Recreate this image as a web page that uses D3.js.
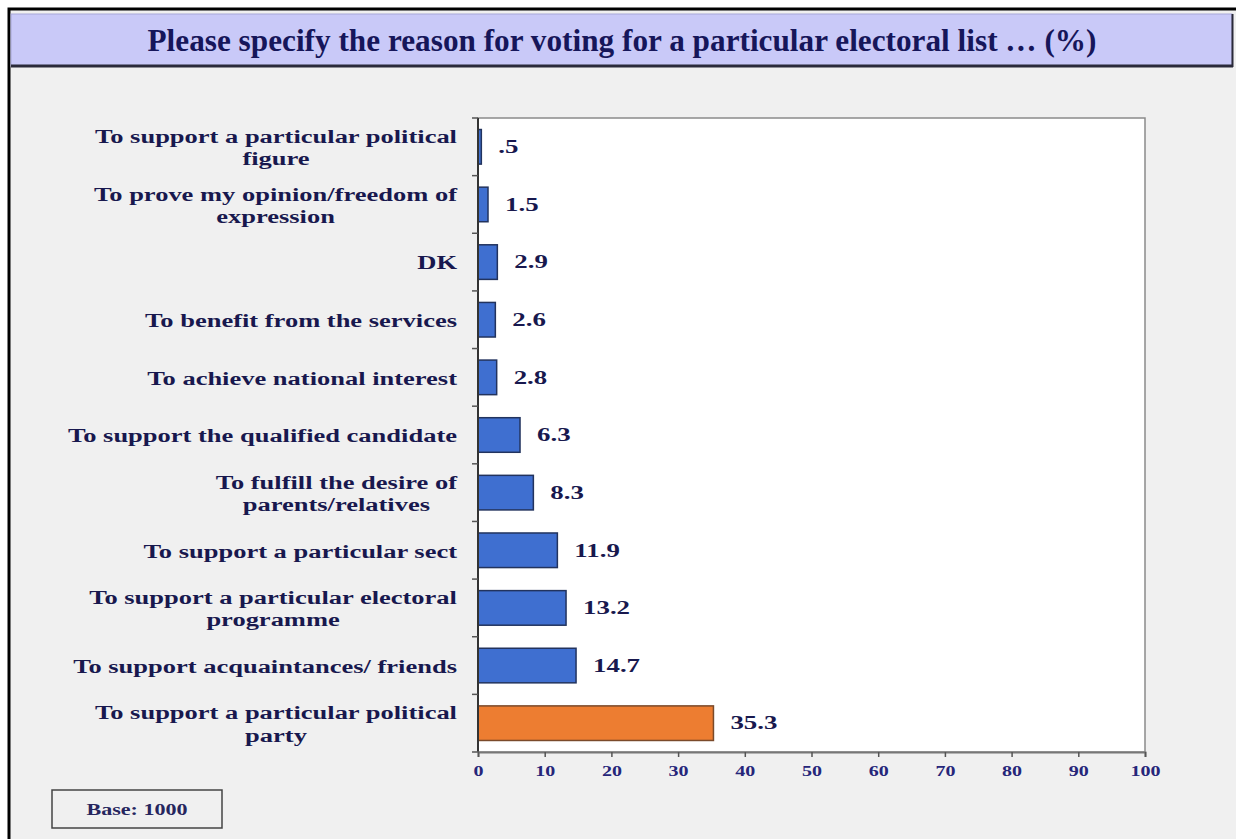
<!DOCTYPE html>
<html>
<head>
<meta charset="utf-8">
<script src="https://cdn.jsdelivr.net/npm/d3@7/dist/d3.min.js"></script>
<style>
  html, body { margin: 0; padding: 0; background: #ffffff; }
  svg { display: block; }
  text { font-family: "Liberation Serif", "Times New Roman", serif; font-weight: bold; }
</style>
</head>
<body>
<svg id="chart" width="1236" height="839"></svg>
<script>
// ---- data ----
const titleText = "Please specify the reason for voting for a particular electoral list \u2026 (%)";
const categories = [
  ["To support a particular political", "figure"],
  ["To prove my opinion/freedom of", "expression"],
  ["DK"],
  ["To benefit from the services"],
  ["To achieve national interest"],
  ["To support the qualified candidate"],
  ["To fulfill the desire of", "parents/relatives"],
  ["To support a particular sect"],
  ["To support a particular electoral", "programme"],
  ["To support acquaintances/ friends"],
  ["To support a particular political", "party"]
];
const values = [0.5, 1.5, 2.9, 2.6, 2.8, 6.3, 8.3, 11.9, 13.2, 14.7, 35.3];
const highlight = [false, false, false, false, false, false, false, false, false, false, true];
const xTicks = [0, 10, 20, 30, 40, 50, 60, 70, 80, 90, 100];
const baseText = "Base: 1000";

// ---- helpers ----
function stretch(sel, factor) {
  sel.each(function () {
    const w = this.getComputedTextLength();
    d3.select(this).attr("textLength", w * factor).attr("lengthAdjust", "spacingAndGlyphs");
  });
}
function factorFor(node, target) { return target / node.getComputedTextLength(); }

// ---- layout ----
const svg = d3.select("#chart");
const navy = "#18184e";
const plot = { left: 478, right: 1145, top: 118, bottom: 752 };

// background & outer frame
svg.append("rect").attr("x", 9).attr("y", 9).attr("width", 1240).attr("height", 840)
  .attr("fill", "#f0f0f0").attr("stroke", "#000").attr("stroke-width", 3);

// title band
svg.append("rect").attr("x", 11).attr("y", 14).attr("width", 1221).attr("height", 52)
  .attr("fill", "#c9c9f8").attr("stroke", "#a8a8d8").attr("stroke-width", 1);
svg.append("line").attr("x1", 11).attr("x2", 1233).attr("y1", 66).attr("y2", 66)
  .attr("stroke", "#2a2a3a").attr("stroke-width", 3);
svg.append("line").attr("x1", 1232.5).attr("x2", 1232.5).attr("y1", 14).attr("y2", 67)
  .attr("stroke", "#2a2a3a").attr("stroke-width", 2);
const title = svg.append("text").attr("x", 622).attr("y", 51)
  .attr("text-anchor", "middle").attr("fill", "#16165a")
  .style("font-size", "31px").text(titleText);
title.attr("textLength", 949).attr("lengthAdjust", "spacingAndGlyphs");

// plot area
svg.append("rect").attr("x", plot.left).attr("y", plot.top)
  .attr("width", plot.right - plot.left).attr("height", plot.bottom - plot.top)
  .attr("fill", "#ffffff").attr("stroke", "#8a8a8a").attr("stroke-width", 1.5);

const x = d3.scaleLinear().domain([0, 100]).range([plot.left, plot.right]);
const y = d3.scaleBand().domain(d3.range(categories.length))
  .range([plot.top, plot.bottom]).paddingInner(0.4).paddingOuter(0.2);

// bars
svg.append("g").selectAll("rect").data(values).join("rect")
  .attr("x", x(0))
  .attr("y", (d, i) => y(i))
  .attr("width", d => x(d) - x(0))
  .attr("height", y.bandwidth())
  .attr("fill", (d, i) => highlight[i] ? "#ed7d31" : "#3f6fd0")
  .attr("stroke", (d, i) => highlight[i] ? "#7a4a2a" : "#22335e")
  .attr("stroke-width", 1.5);

// value labels
const fmt = v => d3.format(".1f")(v).replace(/^0\./, ".");
const vals = svg.append("g").selectAll("text").data(values).join("text")
  .attr("x", d => x(d) + 17)
  .attr("y", (d, i) => y(i) + y.bandwidth() / 2)
  .attr("dy", "0.35em")
  .attr("fill", navy).style("font-size", "18px")
  .text(fmt);
stretch(vals, factorFor(vals.filter((d, i) => i === 10).node(), 47));

// y axis (band boundary ticks)
const yAxisG = svg.append("g");
yAxisG.append("line").attr("x1", plot.left).attr("x2", plot.left)
  .attr("y1", plot.top).attr("y2", plot.bottom).attr("stroke", "#333").attr("stroke-width", 2);
const step = (plot.bottom - plot.top) / categories.length;
yAxisG.selectAll("line.tk").data(d3.range(categories.length + 1)).join("line")
  .attr("class", "tk")
  .attr("x1", plot.left - 6).attr("x2", plot.left)
  .attr("y1", i => plot.top + i * step).attr("y2", i => plot.top + i * step)
  .attr("stroke", "#555").attr("stroke-width", 1.5);

// category labels (block right-aligned, lines centered within block)
const catG = svg.append("g").selectAll("g").data(categories).join("g");
const lineH = 22.5;
catG.each(function (lines, i) {
  const g = d3.select(this);
  const cy = y(i) + y.bandwidth() / 2 + 1;
  lines.forEach((ln, j) => {
    g.append("text")
      .attr("y", cy + (j - (lines.length - 1) / 2) * lineH)
      .attr("dy", "0.35em")
      .attr("fill", navy).style("font-size", "18px")
      .text(ln);
  });
});
const refNode = catG.filter((d, i) => i === 0).select("text").node();
const catFactor = factorFor(refNode, 362);
const right = 457;
catG.each(function () {
  const texts = d3.select(this).selectAll("text");
  const widths = [];
  texts.each(function () { widths.push(this.getComputedTextLength() * catFactor); });
  const maxW = d3.max(widths);
  texts.each(function (d, k) {
    d3.select(this)
      .attr("textLength", widths[k]).attr("lengthAdjust", "spacingAndGlyphs")
      .attr("x", right - maxW + (maxW - widths[k]) / 2);
  });
});

// x axis
const xAxis = d3.axisBottom(x).tickValues(xTicks).tickSize(5).tickPadding(9).tickFormat(d3.format("d"));
const xg = svg.append("g").attr("transform", `translate(0,${plot.bottom})`).call(xAxis);
xg.select(".domain").attr("stroke", "#777").attr("stroke-width", 2);
xg.selectAll(".tick line").attr("stroke", "#555").attr("stroke-width", 1.5);
const tickTexts = xg.selectAll(".tick text")
  .attr("fill", "#26267a").style("font-size", "14px")
  .style("font-family", "'Liberation Serif', serif").style("font-weight", "bold");
stretch(tickTexts, factorFor(tickTexts.filter(d => d === 100).node(), 30));

// base box
svg.append("rect").attr("x", 52).attr("y", 790).attr("width", 170).attr("height", 38)
  .attr("fill", "none").attr("stroke", "#444").attr("stroke-width", 1.5);
const baseT = svg.append("text").attr("x", 137).attr("y", 809).attr("dy", "0.35em")
  .attr("text-anchor", "middle").attr("fill", "#26265e").style("font-size", "17px")
  .text(baseText);
stretch(baseT, factorFor(baseT.node(), 101));
</script>
</body>
</html>
